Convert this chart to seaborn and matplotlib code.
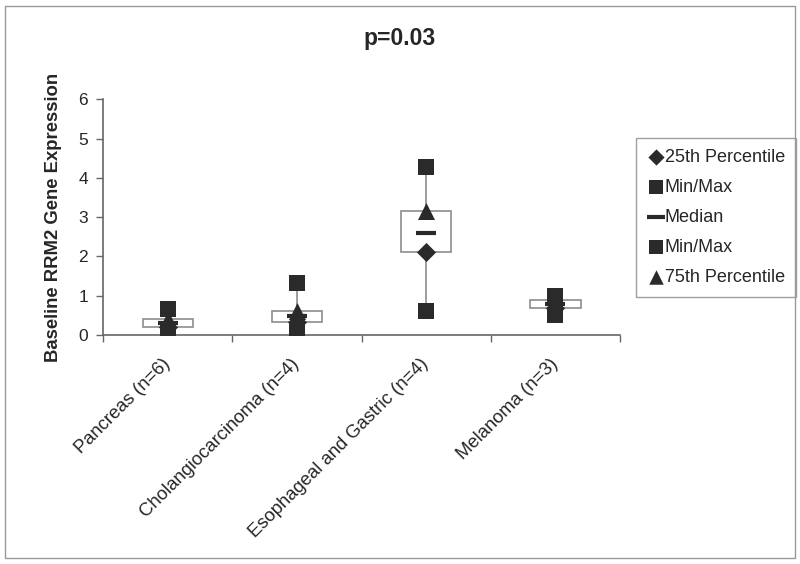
import matplotlib
matplotlib.use("Agg")
import matplotlib.pyplot as plt
import seaborn as sns
import pandas as pd
from matplotlib.patches import Rectangle

categories = ["Pancreas (n=6)", "Cholangiocarcinoma (n=4)", "Esophageal and Gastric (n=4)", "Melanoma (n=3)"]
p25 = [0.20, 0.32, 2.12, 0.70]
minv = [0.07, 0.08, 0.62, 0.52]
median = [0.30, 0.48, 2.60, 0.78]
maxv = [0.66, 1.32, 4.28, 1.00]
p75 = [0.40, 0.60, 3.16, 0.88]

sns.set_theme(style="white")
plt.rcParams['font.family'] = ['Liberation Sans', 'DejaVu Sans']

fig = plt.figure(figsize=(8, 5.64), dpi=100)
ax = fig.add_axes([0.129, 0.406, 0.646, 0.418])

x = list(range(len(categories)))
dark = "#2a2a2a"
grey = "#8c8c8c"

# whiskers
ax.vlines(x, minv, maxv, color=grey, lw=1.2, zorder=1)
# boxes
heights = [b - a for a, b in zip(p25, p75)]
ax.bar(x, heights, bottom=p25, width=0.39, color="white", edgecolor=grey, linewidth=1.2, zorder=2)

df = pd.DataFrame({"x": x, "p25": p25, "min": minv, "median": median, "max": maxv, "p75": p75})
sns.scatterplot(data=df, x="x", y="p25", marker="D", s=95, color=dark, edgecolor=dark, linewidth=0, ax=ax, zorder=4, label="25th Percentile")
sns.scatterplot(data=df, x="x", y="min", marker="s", s=140, color=dark, edgecolor=dark, linewidth=0, ax=ax, zorder=3, label="Min/Max")
sns.scatterplot(data=df, x="x", y="median", marker="_", s=220, color=dark, linewidth=3, ax=ax, zorder=4, label="Median")
sns.scatterplot(data=df, x="x", y="max", marker="s", s=140, color=dark, edgecolor=dark, linewidth=0, ax=ax, zorder=3, label="Min/Max")
sns.scatterplot(data=df, x="x", y="p75", marker="^", s=150, color=dark, edgecolor=dark, linewidth=0, ax=ax, zorder=4, label="75th Percentile")

ax.set_xlim(-0.5, len(categories) - 0.5)
ax.set_ylim(0, 6)
ax.set_yticks(range(0, 7))
ax.set_yticklabels([str(i) for i in range(0, 7)], fontsize=12.5)
ax.set_xticks(x)
ax.set_xticklabels(categories, rotation=45, ha="right", va="center", rotation_mode="anchor", fontsize=13.3)
ax.set_xticks([i - 0.5 for i in range(len(categories) + 1)], minor=True)
ax.tick_params(axis="x", which="major", length=0, pad=19)
ax.tick_params(axis="x", which="minor", length=5, width=1, color="#666666", direction="out", bottom=True)
ax.tick_params(axis="y", length=5, width=1, color="#666666", direction="out", left=True, pad=6)
ax.set_xlabel("")
ax.set_ylabel("Baseline RRM2 Gene Expression", fontsize=13.3, fontweight="bold", labelpad=12)
for s in ["top", "right"]:
    ax.spines[s].set_visible(False)
for s in ["left", "bottom"]:
    ax.spines[s].set_color("#666666")
    ax.spines[s].set_linewidth(1.2)

fig.suptitle("p=0.03", x=0.5, y=0.952, fontsize=16.5, fontweight="bold")

leg = ax.legend(loc="upper left", bbox_to_anchor=(0.795, 0.755), bbox_transform=fig.transFigure,
                borderaxespad=0, fontsize=13, frameon=True, fancybox=False, edgecolor="#888888",
                handletextpad=0.0, handlelength=1.0, labelspacing=0.72, borderpad=0.6, markerscale=0.85)
leg.get_frame().set_linewidth(1.0)

fig.patches.append(Rectangle((0.006, 0.01), 0.988, 0.98, transform=fig.transFigure,
                             fill=False, edgecolor="#999999", linewidth=1))

fig.savefig("out.png", dpi=100)
